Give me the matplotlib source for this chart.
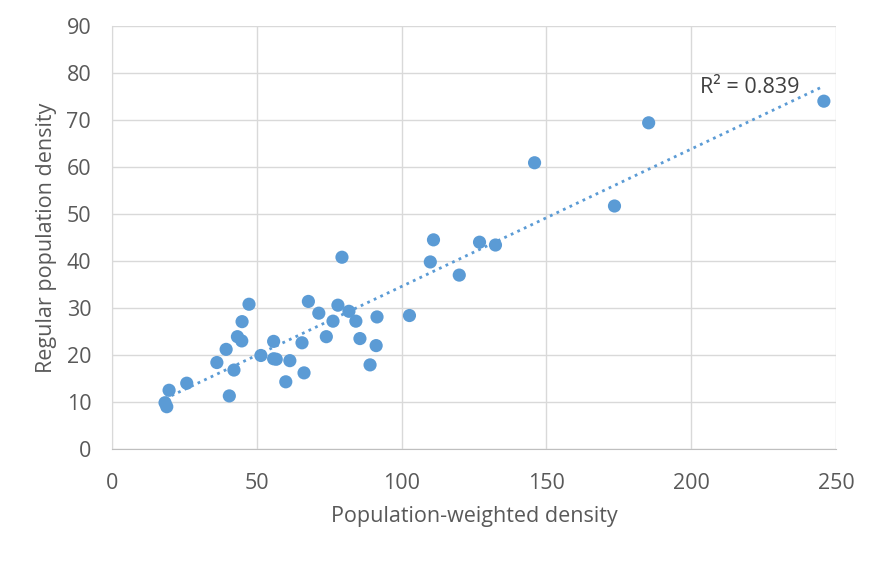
import numpy as np
from matplotlib import pyplot as plt

# data
pw_density = [18.3, 18.9, 19.7, 25.8, 36.2, 39.4, 40.5, 42.1, 43.3, 44.8,
              44.9, 47.3, 51.4, 55.8, 55.8, 56.7, 60.0, 61.4, 66.3, 65.6,
              67.8, 71.4, 74.0, 76.3, 78.0, 79.4, 81.8, 84.2, 85.6, 89.1,
              91.2, 91.5, 102.7, 109.9, 111.0, 119.9, 126.9, 132.4, 145.9,
              173.5, 185.3, 245.8]
reg_density = [9.85, 9.0, 12.5, 14.0, 18.4, 21.2, 11.3, 16.8, 23.9, 23.0,
               27.1, 30.8, 19.9, 22.9, 19.2, 19.1, 14.3, 18.8, 16.2, 22.6,
               31.4, 28.9, 23.9, 27.2, 30.6, 40.8, 29.3, 27.2, 23.5, 17.9,
               22.0, 28.1, 28.4, 39.8, 44.5, 37.0, 44.0, 43.4, 60.9,
               51.7, 69.4, 74.0]
r2_text = "R² = 0.839"
x_ticks = [0, 50, 100, 150, 200, 250]
y_ticks = [0, 10, 20, 30, 40, 50, 60, 70, 80, 90]

blue = "#5B9BD5"
grey_txt = "#595959"

plt.rcParams['font.family'] = ['Open Sans', 'DejaVu Sans']

fig = plt.figure(figsize=(8.78, 5.61), dpi=100)
ax = fig.add_axes([0.1276, 0.1996, 0.8246, 0.7541])

x = np.array(pw_density)
y = np.array(reg_density)

# trendline
k, b = np.polyfit(x, y, 1)
xl = np.array([x.min(), x.max()])
ax.plot(xl, k * xl + b, linestyle=(0, (1, 1.6)), color=blue, linewidth=2, zorder=2)

ax.scatter(x, y, s=90, color=blue, edgecolors='none', zorder=3)

ax.text(203.0, 76.9, r2_text, ha='left', va='center', fontsize=15.5, color="#404040")

ax.set_xlim(0, 250)
ax.set_ylim(0, 90)
ax.set_xticks(x_ticks)
ax.set_yticks(y_ticks)
ax.grid(True, color="#D9D9D9", linewidth=1)
ax.set_axisbelow(True)
for side in ['top', 'right']:
    ax.spines[side].set_visible(False)
ax.spines['left'].set_color("#D9D9D9")
ax.spines['bottom'].set_color("#BFBFBF")
ax.tick_params(axis='both', length=0, labelsize=15.5, labelcolor=grey_txt)
ax.tick_params(axis='x', pad=17)
ax.tick_params(axis='y', pad=15)

ax.set_xlabel("Population-weighted density", fontsize=15.5, color=grey_txt, labelpad=9)
ax.set_ylabel("Regular population density", fontsize=15.5, color=grey_txt, labelpad=7)

fig.savefig("out.png", dpi=100)
